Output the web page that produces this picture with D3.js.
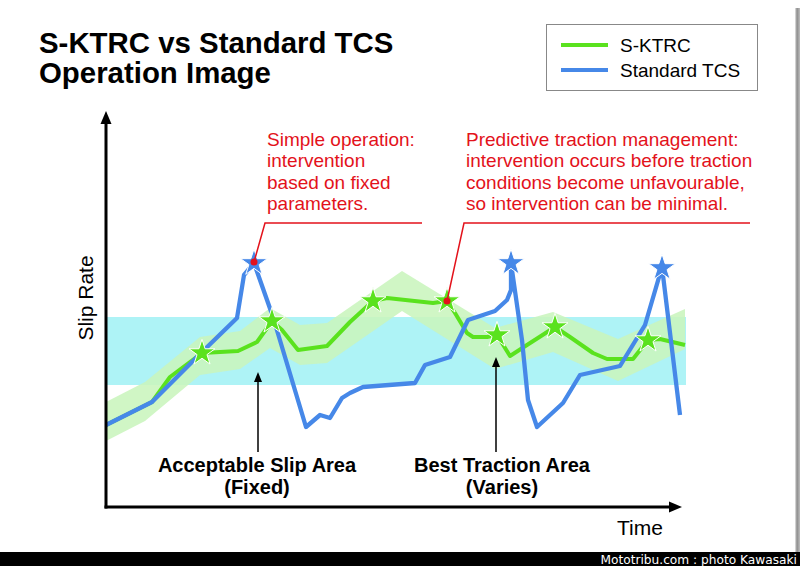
<!DOCTYPE html>
<html><head><meta charset="utf-8">
<script src="https://cdn.jsdelivr.net/npm/d3@7"></script>
<style>html,body{margin:0;padding:0;background:#fff;}svg{display:block;}</style>
</head><body>
<script>
// ---- data (time units, slip units) ----
const titleLines = ["S-KTRC vs Standard TCS", "Operation Image"];
const seriesNames = ["S-KTRC", "Standard TCS"];

const tcsT = [0,4.6,9.6,13.1,13.8,14.8,16.7,20.0,21.4,22.4,23.6,24.4,25.7,30.9,31.9,34.4,36.2,38.9,40.1,40.5,40.5,41.6,42.2,43.1,45.7,47.4,51.4,53.9,55.6,57.4];
const tcsV = [8.2,10.5,15.5,18.9,23.2,24.4,19.0,8.0,9.2,8.9,10.9,11.4,12.0,12.4,14.2,15.0,18.7,19.6,20.7,21.7,24.4,16.7,10.7,8.0,10.4,13.2,14.1,18.2,24.0,9.2];
const tcsStars = [14.8, 40.5, 55.6];
const tcsStarV = [24.4, 24.4, 23.9];

const ktrcT = [0,4.6,6.4,9.6,13.2,15.1,16.6,17.6,19.2,22.1,24.4,26.7,28.1,32.7,34.1,34.9,36.1,36.7,38.1,39.1,40.4,42.1,44.9,46.4,48.7,50.1,52.7,54.2,55.4,57.9];
const ktrcV = [8.2,10.5,13.0,15.4,15.6,16.5,18.6,17.7,15.7,16.1,18.5,20.6,20.9,20.4,20.6,19.4,17.4,17.0,17.0,17.2,15.1,16.2,18.0,17.0,15.4,14.8,14.8,16.7,16.8,16.2];
const ktrcStarIdx = [3,6,11,14,19,22,27];

const bandT    = [0,3.9,9.4,13.4,16.4,19.4,22.1,29.6,38.9,44.7,51.2,57.9];
const bandLow  = [6.6,8.6,13.2,13.8,15.9,14.2,14.4,19.6,13.8,15.5,12.6,15.8];
const bandHigh = [10.5,12.5,17.0,17.6,19.9,18.2,18.4,23.6,17.9,19.5,16.8,19.8];

const acceptLow = 12.2, acceptHigh = 19.0;

const noteLeft = ["Simple operation:", "intervention", "based on fixed", "parameters."];
const noteRight = ["Predictive traction management:", "intervention occurs before traction", "conditions become unfavourable,", "so intervention can be minimal."];
const labelAccept = ["Acceptable Slip Area", "(Fixed)"];
const labelBest = ["Best Traction Area", "(Varies)"];
const axisLabels = {x: "Time", y: "Slip Rate"};
const credit = "Mototribu.com : photo Kawasaki";

// ---- drawing ----
const W = 800, H = 566;
const GREEN = "#5ae21e", BLUE = "#4688e8", RED = "#e3121b";
const svg = d3.select("body").append("svg").attr("width", W).attr("height", H)
  .style("font-family", "'Liberation Sans', Arial, sans-serif");

const x = d3.scaleLinear().domain([0, 58]).range([106, 686]);
const y = d3.scaleLinear().domain([0, 40]).range([507, 107]);

// right shadow strip
const defs = svg.append("defs");
const g1 = defs.append("linearGradient").attr("id", "shadow").attr("x1", 0).attr("x2", 1).attr("y1", 0).attr("y2", 0);
g1.append("stop").attr("offset", 0).attr("stop-color", "#e8e8e8");
g1.append("stop").attr("offset", 0.4).attr("stop-color", "#8c8c8c");
g1.append("stop").attr("offset", 1).attr("stop-color", "#bdbdbd");
svg.append("rect").attr("x", 795).attr("y", 8).attr("width", 5).attr("height", 544).attr("fill", "url(#shadow)");

// bottom bar
svg.append("rect").attr("x", 0).attr("y", 552).attr("width", W).attr("height", 14).attr("fill", "#000");
svg.append("text").attr("x", 797).attr("y", 563.5).attr("text-anchor", "end")
  .attr("fill", "#fff").style("font-family", "'DejaVu Sans', Verdana, sans-serif").style("font-size", "12.2px").text(credit);

// title
svg.append("g").selectAll("text").data(titleLines).join("text")
  .attr("x", 39).attr("y", (d, i) => 53 + i * 30)
  .style("font-size", "29.4px").style("font-weight", "bold").attr("fill", "#000").text(d => d);

// acceptable slip band
svg.append("rect").attr("x", x(0)).attr("width", x(58) - x(0))
  .attr("y", y(acceptHigh)).attr("height", y(acceptLow) - y(acceptHigh)).attr("fill", "#aef3f6");

// best traction band
const bandData = bandT.map((t, i) => ({t, lo: bandLow[i], hi: bandHigh[i]}));
svg.append("path").datum(bandData)
  .attr("d", d3.area().x(d => x(d.t)).y0(d => y(d.lo)).y1(d => y(d.hi)))
  .attr("fill", "#c9f5bd").attr("opacity", 0.88);

// lines
const line = d3.line().x(d => x(d[0])).y(d => y(d[1]));
const ktrc = ktrcT.map((t, i) => [t, ktrcV[i]]);
const tcs = tcsT.map((t, i) => [t, tcsV[i]]);
svg.append("path").datum(ktrc).attr("d", line).attr("fill", "none")
  .attr("stroke", GREEN).attr("stroke-width", 4).attr("stroke-linejoin", "round");
svg.append("path").datum(tcs).attr("d", line).attr("fill", "none")
  .attr("stroke", BLUE).attr("stroke-width", 4.3).attr("stroke-linejoin", "round");

// stars
svg.append("g").selectAll("path").data(ktrcStarIdx.map(i => ktrc[i])).join("path")
  .attr("d", d3.symbol().type(d3.symbolStar).size(210)).attr("transform", d => `translate(${x(d[0])},${y(d[1])})`)
  .attr("fill", GREEN).attr("stroke", "#fff").attr("stroke-width", 1);
svg.append("g").selectAll("path").data(tcsStars.map((t, i) => [t, tcsStarV[i]])).join("path")
  .attr("d", d3.symbol().type(d3.symbolStar).size(220)).attr("transform", d => `translate(${x(d[0])},${y(d[1])})`)
  .attr("fill", BLUE).attr("stroke", "#fff").attr("stroke-width", 1);

// axes
const ax = svg.append("g");
ax.append("line").attr("x1", x(0)).attr("x2", x(0)).attr("y1", y(0) + 1.5).attr("y2", y(38.6))
  .attr("stroke", "#000").attr("stroke-width", 3);
ax.append("path").attr("d", `M${x(0)},${y(39.6)} L${x(0) - 5.5},${y(38.3)} L${x(0) + 5.5},${y(38.3)} Z`).attr("fill", "#000");
ax.append("line").attr("x1", x(0) - 1.5).attr("x2", x(56.5)).attr("y1", y(0)).attr("y2", y(0))
  .attr("stroke", "#000").attr("stroke-width", 3);
ax.append("path").attr("d", `M${x(57.6)},${y(0)} L${x(56.3)},${y(0) - 5.5} L${x(56.3)},${y(0) + 5.5} Z`).attr("fill", "#000");
ax.append("text").attr("transform", `translate(93,${y(20.9)}) rotate(-90)`)
  .attr("text-anchor", "middle").style("font-size", "21px").text(axisLabels.y);
ax.append("text").attr("x", 640).attr("y", 535).attr("text-anchor", "middle").style("font-size", "21px").text(axisLabels.x);

// black pointer arrows + labels
function pointer(t, tipV, botV, labels, cx) {
  const g = svg.append("g");
  g.append("line").attr("x1", x(t)).attr("x2", x(t)).attr("y1", y(botV)).attr("y2", y(tipV) + 6)
    .attr("stroke", "#000").attr("stroke-width", 1.5);
  g.append("path").attr("d", `M${x(t)},${y(tipV)} L${x(t) - 4},${y(tipV) + 10} L${x(t) + 4},${y(tipV) + 10} Z`).attr("fill", "#000");
  g.selectAll("text").data(labels).join("text")
    .attr("x", cx).attr("y", (d, i) => 472 + i * 22).attr("text-anchor", "middle")
    .style("font-size", "20px").style("font-weight", "bold").text(d => d);
}
pointer(15.2, 13.5, 5.5, labelAccept, 257);
pointer(39.0, 15.0, 5.5, labelBest, 502);

// red annotations
function note(lines, tx, lineEndX, target) {
  const g = svg.append("g");
  g.selectAll("text").data(lines).join("text")
    .attr("x", tx).attr("y", (d, i) => 146 + i * 21.3)
    .attr("fill", RED).style("font-size", "19px").text(d => d);
  g.append("path").attr("d", `M${lineEndX},223 L${tx - 2},223 L${x(target[0])},${y(target[1])}`)
    .attr("fill", "none").attr("stroke", RED).attr("stroke-width", 1.5);
  g.append("circle").attr("cx", x(target[0])).attr("cy", y(target[1])).attr("r", 3.5).attr("fill", RED);
}
note(noteLeft, 267, 422, [tcsStars[0], tcsStarV[0] + 0.1]);
note(noteRight, 466, 750, ktrc[14]);

// legend
const lg = svg.append("g");
lg.append("rect").attr("x", 546.5).attr("y", 24.5).attr("width", 211).attr("height", 66)
  .attr("fill", "#fff").attr("stroke", "#888").attr("stroke-width", 1);
[GREEN, BLUE].forEach((c, i) => {
  lg.append("line").attr("x1", 561).attr("x2", 608).attr("y1", 45 + i * 25).attr("y2", 45 + i * 25)
    .attr("stroke", c).attr("stroke-width", 4);
  lg.append("text").attr("x", 620).attr("y", 52 + i * 25).style("font-size", "19px").text(seriesNames[i]);
});
</script>
</body></html>
